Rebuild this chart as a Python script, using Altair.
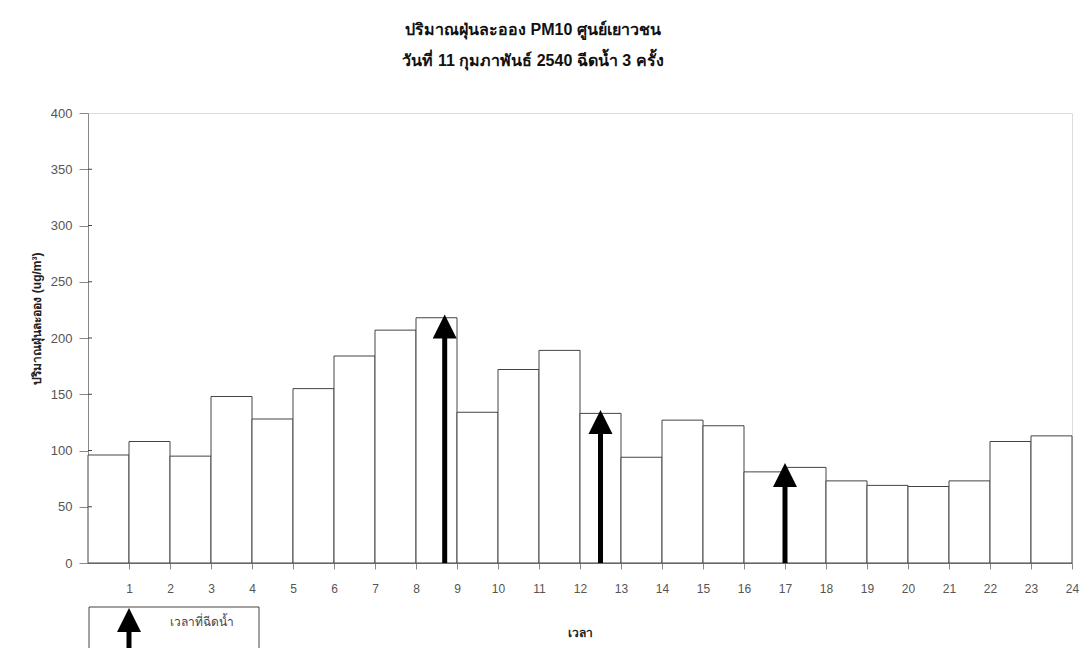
import altair as alt
import pandas as pd

# Hourly PM10 readings (ug/m3), hour ending 1..24
hours = list(range(1, 25))
pm10 = [96, 108, 95, 148, 128, 155, 184, 207, 218, 134, 172, 189,
        133, 94, 127, 122, 81, 85, 73, 69, 68, 73, 108, 113]

# Water-spraying times (hour position) and arrow tip heights
spray_time = [8.7, 12.5, 17.0]
spray_tip = [221, 136, 89]

y_ticks = [0, 50, 100, 150, 200, 250, 300, 350, 400]

title_lines = ["ปริมาณฝุ่นละออง PM10 ศูนย์เยาวชน", "วันที่ 11 กุมภาพันธ์ 2540 ฉีดน้ำ 3 ครั้ง"]
x_title = "เวลา"
y_title = "ปริมาณฝุ่นละออง (ug/m³)"
legend_label = "เวลาที่ฉีดน้ำ"

FONT = "Liberation Sans, Noto Sans, DejaVu Sans, sans-serif"

bars_df = pd.DataFrame({"hour": hours, "start": [h - 1 for h in hours], "pm10": pm10})
arrows_df = pd.DataFrame({"t": spray_time, "tip": spray_tip,
                          "shaft_end": [v - 10 for v in spray_tip], "zero": 0})
ticks_df = pd.DataFrame({"v": y_ticks[1:-1]})

x_scale = alt.Scale(domain=[0, 24], nice=False, zero=False)
y_scale = alt.Scale(domain=[0, 400], nice=False)

x_axis = alt.Axis(values=hours, title=x_title, tickSize=6, labelPadding=14,
                  labelFontSize=12, labelColor="#555", grid=False,
                  titleFontSize=12, titleFontWeight="bold", titleColor="#222",
                  titleY=69, titleBaseline="middle", labelFlush=False)
y_axis = alt.Axis(values=y_ticks, title=y_title, tickSize=9, labelPadding=7,
                  labelFontSize=13, labelColor="#555", grid=False,
                  titleFontSize=12, titleFontWeight="bold", titleColor="#222",
                  titleX=-52, titleY=205, titleAngle=270, titleAlign="center",
                  titleBaseline="middle")

bars = alt.Chart(bars_df).mark_rect(fill="white", stroke="#444", strokeWidth=1).encode(
    x=alt.X("start:Q", scale=x_scale, axis=x_axis),
    x2="hour:Q",
    y=alt.Y("pm10:Q", scale=y_scale, axis=y_axis),
    y2=alt.datum(0),
)

# inward half of the y-axis tick marks
inner_ticks = alt.Chart(ticks_df).mark_rule(color="#444", strokeWidth=1).encode(
    x=alt.value(0), x2=alt.value(4),
    y=alt.Y("v:Q", scale=y_scale),
)

shafts = alt.Chart(arrows_df).mark_rule(color="black", strokeWidth=5).encode(
    x=alt.X("t:Q", scale=x_scale),
    y=alt.Y("zero:Q", scale=y_scale),
    y2="shaft_end:Q",
)

head_path = "M0,0L1,2L-1,2Z"
heads = alt.Chart(arrows_df).mark_point(
    shape=head_path, size=576, filled=True, color="black", opacity=1, strokeWidth=0
).encode(
    x=alt.X("t:Q", scale=x_scale),
    y=alt.Y("tip:Q", scale=y_scale),
)

# legend box below the axis
legend_box = alt.Chart(bars_df.head(1)).mark_rect(
    fill="white", stroke="#444", strokeWidth=1
).encode(x=alt.value(1), x2=alt.value(171), y=alt.value(494), y2=alt.value(560))

legend_shaft = alt.Chart(bars_df.head(1)).mark_rule(color="black", strokeWidth=5).encode(
    x=alt.value(41), y=alt.value(510), y2=alt.value(560)
)
legend_head = alt.Chart(bars_df.head(1)).mark_point(
    shape=head_path, size=576, filled=True, color="black", opacity=1, strokeWidth=0
).encode(x=alt.value(41), y=alt.value(495))

legend_text = alt.Chart(bars_df.head(1)).mark_text(
    text=legend_label, fontSize=12, color="#444", align="left", baseline="middle", font=FONT
).encode(x=alt.value(82), y=alt.value(509))

chart = alt.layer(
    bars, inner_ticks, shafts, heads, legend_box, legend_shaft, legend_head, legend_text
).properties(
    width=984,
    height=450,
    autosize=alt.AutoSizeParams(type="none"),
    padding={"left": 88, "top": 113, "right": 9, "bottom": 85},
    title=alt.TitleParams(
        text=title_lines, fontSize=16, fontWeight="bold", color="#111",
        lineHeight=31, anchor="middle", dx=-47, offset=38, font=FONT,
    ),
).configure_view(
    stroke="#333", strokeWidth=1
).configure_axis(
    domainColor="#333", tickColor="#333", labelFont=FONT, titleFont=FONT
).configure(background="white")

chart.save("out.html", embed_options={"renderer": "svg", "actions": False})
